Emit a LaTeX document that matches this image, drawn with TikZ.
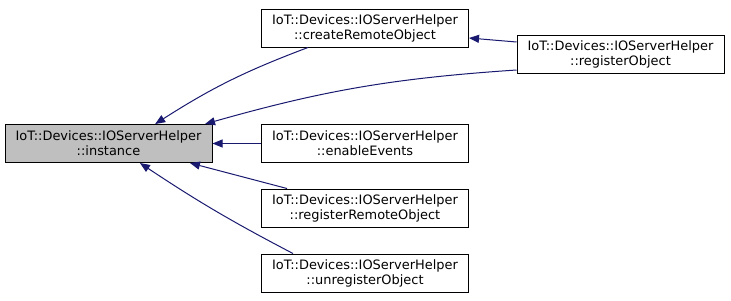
\documentclass[tikz,border=0pt]{standalone}
\usepackage{fontspec}
\setmainfont{DejaVu Sans}
\usetikzlibrary{arrows.meta}
\definecolor{edgeblue}{RGB}{25,25,112}
\definecolor{nodegray}{RGB}{191,191,191}

\begin{document}
\begin{tikzpicture}[x=.75pt,y=-.75pt,
  fn/.style={draw=black,line width=.75pt,minimum width=155.25pt,minimum height=28.5pt,
    inner sep=0pt,align=center,font=\fontsize{9.7}{11.2}\selectfont},
  call/.style={draw=edgeblue,line width=.75pt,
    {Triangle[length=7.5pt,width=6pt,fill=edgeblue]}-}]
\useasboundingbox (0,0) rectangle (731,300);
% the function and its callers
\node[fn,fill=nodegray] (inst) at (108.5,143.5) {IoT::Devices::IOServerHelper\\::instance};
\node[fn] (create) at (365,28) {IoT::Devices::IOServerHelper\\::createRemoteObject};
\node[fn] (regobj) at (620.5,54) {IoT::Devices::IOServerHelper\\::registerObject};
\foreach \n/\y/\t in {enable/143.5/enableEvents,regremote/208/registerRemoteObject,unreg/273/unregisterObject}
  \node[fn] (\n) at (365,\y) {IoT::Devices::IOServerHelper\\::\t};
% call edges
\draw[call] ([xshift=35pt]inst.north) to[bend left=6] ([xshift=-42.75pt]create.south);
\draw[call] ([xshift=72.4pt]inst.north) to[bend left=6] ([yshift=-12pt]regobj.west);
\draw[call] (inst.east) -- (enable.west);
\draw[call] ([xshift=61.1pt]inst.south) -- ([xshift=-58.5pt]regremote.north);
\draw[call] ([xshift=23.6pt]inst.south) to[bend right=3] ([xshift=-54pt]unreg.north);
\draw[call] ([yshift=-7.5pt]create.east) -- ([yshift=9pt]regobj.west);
\end{tikzpicture}
\end{document}
